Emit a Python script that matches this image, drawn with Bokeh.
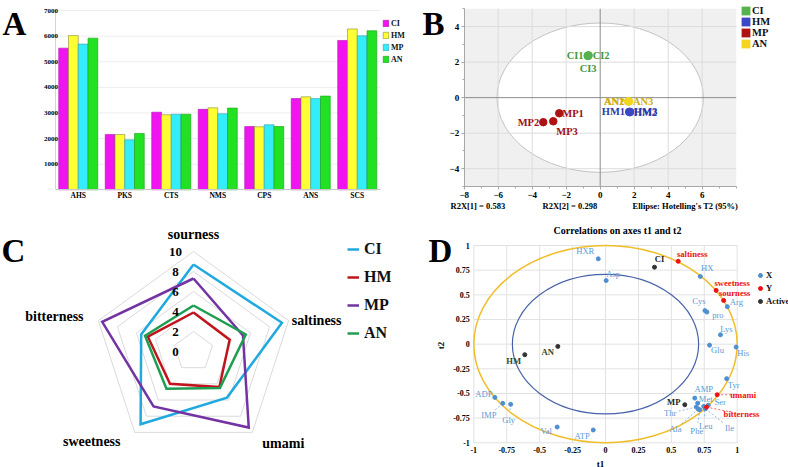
import numpy as np
from bokeh.plotting import figure
from bokeh.layouts import column, row
from bokeh.models import (ColumnDataSource, FixedTicker, Legend, LegendItem, Label)
from bokeh.transform import dodge
from bokeh.core.properties import value
from bokeh.embed import file_html
from bokeh.resources import INLINE

SERIF = "Liberation Serif"

# ---------------- A: component sums per sample ----------------
categories = ["AHS", "PKS", "CTS", "NMS", "CPS", "ANS", "SCS"]
groups = ["CI", "HM", "MP", "AN"]
bar_CI = [5530, 2160, 3030, 3140, 2470, 3560, 5830]
bar_HM = [6020, 2160, 2930, 3200, 2460, 3630, 6280]
bar_MP = [5690, 1950, 2950, 2970, 2540, 3560, 6010]
bar_AN = [5920, 2200, 2950, 3190, 2470, 3660, 6210]
a_ticks = [1000, 2000, 3000, 4000, 5000, 6000, 7000]

# ---------------- B: PCA scores ----------------
pca_names = ["CI1", "CI2", "CI3", "HM1", "HM2", "HM3",
             "MP1", "MP2", "MP3", "AN1", "AN2", "AN3"]
pca_group = ["CI", "CI", "CI", "HM", "HM", "HM", "MP", "MP", "MP", "AN", "AN", "AN"]
pca_t1 = [-0.74, -0.68, -0.71, 1.70, 1.74, 1.76, -2.41, -3.35, -2.76, 1.64, 1.67, 1.69]
pca_t2 = [2.36, 2.38, 2.34, -0.80, -0.82, -0.80, -0.88, -1.38, -1.33, -0.22, -0.20, -0.22]
r2x_1 = 0.583
r2x_2 = 0.298
t2_a = 6.07   # Hotelling's T2 (95%) ellipse semi-axes
t2_b = 4.2
b_xticks = [-8, -6, -4, -2, 0, 2, 4, 6]
b_yticks = [-4, -2, 0, 2, 4]

# ---------------- C: taste radar ----------------
tastes = ["sourness", "saltiness", "umami", "sweetness", "bitterness"]
radar_CI = [8.7, 9.3, 5.7, 9.0, 5.5]
radar_HM = [3.9, 3.8, 4.4, 4.0, 4.8]
radar_MP = [7.3, 5.2, 9.4, 6.8, 9.6]
radar_AN = [4.6, 5.5, 4.5, 4.6, 5.1]
radar_levels = [0, 2, 4, 6, 8, 10]

# ---------------- D: correlation loadings ----------------
x_names = ["HXR", "Asp", "HX", "Cys", "pro", "Arg", "Lys", "Glu", "His", "Tyr",
           "AMP", "Met", "Ser", "Thr", "Ala", "Phe", "Leu", "Ile",
           "ADP", "IMP", "Gly", "Val", "ATP"]
x_t1 = [-0.055, 0.005, 0.72, 0.755, 0.77, 0.925, 0.873, 0.79, 0.992, 0.92,
        0.678, 0.70, 0.78, 0.689, 0.705, 0.716, 0.746, 0.759,
        -0.84, -0.78, -0.72, -0.367, -0.093]
x_t2 = [0.865, 0.645, 0.686, 0.34, 0.325, 0.38, 0.095, -0.01, -0.03, -0.35,
        -0.547, -0.598, -0.62, -0.638, -0.66, -0.665, -0.631, -0.655,
        -0.54, -0.60, -0.61, -0.84, -0.87]
y_names = ["saltiness", "sweetness", "sourness", "umami", "bitterness"]
y_t1 = [0.552, 0.84, 0.897, 0.848, 0.767]
y_t2 = [0.84, 0.545, 0.443, -0.513, -0.638]
act_names = ["CI", "AN", "HM", "MP"]
act_t1 = [0.372, -0.362, -0.613, 0.602]
act_t2 = [0.78, -0.023, -0.107, -0.614]
d_ticks = [-1, -0.75, -0.5, -0.25, 0, 0.25, 0.5, 0.75, 1]


def padded(lo, hi, pad_lo, pad_hi, size):
    """Range whose [lo, hi] part sits pad_lo/pad_hi pixels inside the canvas."""
    scale = (size - pad_lo - pad_hi) / (hi - lo)
    return (lo - pad_lo / scale, hi + pad_hi / scale), scale


def panel(w, h, xr, yr):
    p = figure(width=w, height=h, x_range=xr, y_range=yr, output_backend="svg",
               toolbar_location=None, min_border=0)
    p.outline_line_color = None
    p.grid.visible = False
    return p


def tag(p, text, fx, fy, size, style="bold", align="left", baseline="alphabetic",
        color="black", angle=0):
    # fx, fy: pixels from the canvas' top-left corner
    p.add_layout(Label(x=fx, y=p.height - fy, x_units="screen", y_units="screen",
                       text=text, text_font=SERIF, text_font_style=style,
                       text_font_size=size, text_align=align, text_baseline=baseline,
                       text_color=color, angle=angle))


def style_axis(ax, size, line_color=None, tick_color=None, tick_out=0, minor_out=0,
               standoff=2):
    ax.major_label_text_font = SERIF
    ax.major_label_text_font_style = "bold"
    ax.major_label_text_font_size = size
    ax.major_label_text_color = "black"
    ax.axis_line_color = line_color
    ax.major_tick_line_color = tick_color
    ax.minor_tick_line_color = tick_color
    ax.major_tick_in = 0
    ax.minor_tick_in = 0
    ax.major_tick_out = tick_out
    ax.minor_tick_out = minor_out
    ax.major_label_standoff = standoff


def legend(items, loc, gw, gh, lh, spacing, size, standoff):
    return Legend(items=items, location=loc, glyph_width=gw, glyph_height=gh,
                  label_height=lh, label_standoff=standoff, spacing=spacing,
                  padding=0, margin=0, border_line_color=None,
                  background_fill_alpha=0, label_text_font=SERIF,
                  label_text_font_style="bold", label_text_font_size=size,
                  label_text_color="#111111")


# ======================= Panel A =======================
A_W, A_H = 412, 224
n_cat = len(categories)
a_xr, _ = padded(-0.5, n_cat - 0.5, 54.5, 32, A_W)
a_yr, _ = padded(0, 7000, 34.7, 10, A_H)
pA = panel(A_W, A_H, a_xr, a_yr)

bar_colors = {"CI": "#F014F0", "HM": "#FFFF33", "MP": "#33EEF8", "AN": "#22E022"}
bar_edges = {"CI": "#B010B0", "HM": "#8A8A30", "MP": "#30A0B0", "AN": "#18A018"}
idx = list(range(n_cat))
pA.segment(x0=-0.5, x1=n_cat - 0.5, y0=a_ticks, y1=a_ticks, line_color="#EDEDED",
           line_width=1)
srcA = ColumnDataSource(dict(idx=idx, CI=bar_CI, HM=bar_HM, MP=bar_MP, AN=bar_AN))
bar_w = 0.21
a_items = []
for i, g in enumerate(groups):
    r = pA.vbar(x=dodge("idx", (i - 1.5) * bar_w), top=g, width=bar_w, source=srcA,
                fill_color=bar_colors[g], line_color=bar_edges[g], line_width=0.6)
    a_items.append(LegendItem(label=g, renderers=[r]))

pA.xaxis.fixed_location = 0
pA.xaxis.bounds = (-0.5, n_cat - 0.5)
pA.xaxis.ticker = FixedTicker(ticks=idx)
pA.xaxis.major_label_overrides = {i: c for i, c in zip(idx, categories)}
style_axis(pA.xaxis[0], "7.5px", line_color="#C8C8C8", standoff=1)
pA.yaxis.fixed_location = -0.5
pA.yaxis.bounds = (0, 7000)
pA.yaxis.ticker = FixedTicker(ticks=a_ticks)
style_axis(pA.yaxis[0], "7px", line_color="#D4D4D4", standoff=-3)

pA.add_layout(legend(a_items, (382, 160), 7, 8, 10, 2, "8px", 2))
tag(pA, "A", 2, 23.5, "33px")

# ======================= Panel B =======================
B_W, B_H = 376, 224
b_xr, _ = padded(-8, 8, 51.7, 52.3, B_W)
b_yr, _ = padded(-5, 5, 38, 8.3, B_H)
pB = panel(B_W, B_H, b_xr, b_yr)

pB.quad(left=[-8], right=[8], bottom=[-5], top=[5], fill_color="#F0F0F0",
        line_color=None)
pB.ellipse(x=[0], y=[0], width=[2 * t2_a], height=[2 * t2_b], fill_color="white",
           line_color="#C2C2C2", line_width=1)
gx = [t for t in b_xticks if t not in (0, -8)]
gy = [t for t in b_yticks if t != 0]
pB.segment(x0=gx, x1=gx, y0=-5, y1=5, line_color="#DCDCDC", line_width=1)
pB.segment(x0=-8, x1=8, y0=gy, y1=gy, line_color="#DCDCDC", line_width=1)
pB.segment(x0=[0, -8], x1=[0, 8], y0=[-5, 0], y1=[5, 0], line_color="#8C8C8C",
           line_width=1)

pB.xaxis.fixed_location = -5
pB.xaxis.bounds = (-8, 8)
pB.xaxis.ticker = FixedTicker(ticks=b_xticks, minor_ticks=list(range(-8, 9)))
pB.yaxis.fixed_location = -8
pB.yaxis.bounds = (-5, 5)
pB.yaxis.ticker = FixedTicker(ticks=b_yticks, minor_ticks=list(range(-5, 6)))
for ax in (pB.xaxis[0], pB.yaxis[0]):
    style_axis(ax, "9px", line_color="#A8A8A8", tick_color="#A8A8A8", tick_out=3,
               minor_out=2, standoff=2)

grp_marker = {"CI": "#55B24E", "HM": "#3A48C8", "MP": "#AE1212", "AN": "#F3D520"}
grp_text = {"CI": "#3E9A3E", "HM": "#2D3BA8", "MP": "#A01010", "AN": "#CFAE12"}
# label placement around each score point (px)
pca_align = ["right", "left", "center", "right", "left", "left",
             "left", "right", "left", "right", "right", "left"]
pca_dx = [-4, 4, 0, -4, 4, 4, 3, -4, 3, -4, -4, 4]
pca_dy = [0, 0, 12, 0, 0, 0, 0, 0, 10, 0, 0, 0]
srcB = ColumnDataSource(dict(
    t1=pca_t1, t2=pca_t2, name=pca_names, grp=pca_group,
    fill=[grp_marker[g] for g in pca_group], tcol=[grp_text[g] for g in pca_group],
    align=pca_align, dx=pca_dx, dy=pca_dy))
pB.scatter(x="t1", y="t2", source=srcB, size=7.5, marker="circle",
           fill_color="fill", line_color="fill")
pB.text(x="t1", y="t2", text="name", source=srcB, x_offset="dx", y_offset="dy",
        text_align="align", text_baseline="middle", text_color="tcol",
        text_font=value(SERIF), text_font_style="bold", text_font_size="10.5px")

# square swatches for the group key (zero-size rects on the group's scores)
b_items = []
for g in groups:
    sel = [i for i, gg in enumerate(pca_group) if gg == g]
    r = pB.rect(x=[pca_t1[i] for i in sel], y=[pca_t2[i] for i in sel], width=0,
                height=0, fill_color=grp_marker[g], line_color=None)
    b_items.append(LegendItem(label=g, renderers=[r]))
pB.add_layout(legend(b_items, (328, 175), 11, 11, 11, 0, "10.5px", 1))
tag(pB, "B", 10, 23.5, "33px")
tag(pB, "R2X[1] = %.3f" % r2x_1, 38, 205, "8.5px", baseline="middle")
tag(pB, "R2X[2] = %.3f" % r2x_2, 130, 205, "8.5px", baseline="middle")
tag(pB, "Ellipse: Hotelling's T2 (95%)", 220, 205, "8.5px", baseline="middle")

# ======================= Panel C =======================
C_W, C_H = 400, 243
pC = panel(C_W, C_H, (-19.3, 20.7), (-11.6, 12.7))
pC.xaxis.visible = False
pC.yaxis.visible = False

radar_colors = {"CI": "#1FA9DF", "HM": "#C0141C", "MP": "#7433A2", "AN": "#1F9E52"}
radar_vals = {"CI": radar_CI, "HM": radar_HM, "MP": radar_MP, "AN": radar_AN}
ang = np.deg2rad([90, 18, -54, -126, 162])
ang_c = np.r_[ang, ang[0]]

ring_xs = [list(lv * np.cos(ang_c)) for lv in radar_levels[1:]]
ring_ys = [list(lv * np.sin(ang_c)) for lv in radar_levels[1:]]
pC.multi_line(xs=ring_xs, ys=ring_ys, line_color="#DADADA", line_width=1)

c_items = []
for g in groups:
    v = np.array(radar_vals[g] + radar_vals[g][:1])
    r = pC.line(x=v * np.cos(ang_c), y=v * np.sin(ang_c), line_color=radar_colors[g],
                line_width=2.5, line_join="miter")
    c_items.append(LegendItem(label=g, renderers=[r]))

top_lv = radar_levels[-1]
pC.text(x=[0] * len(radar_levels), y=radar_levels, text=[str(l) for l in radar_levels],
        x_offset=-18, text_align="center", text_baseline="middle",
        text_font=value(SERIF), text_font_style="bold", text_font_size="13px")
# taste names sit just outside the outer ring
taste_dx = [0, 28, 31, -43, -44]
taste_dy = [-17, 0, 11, 9, -4]
pC.text(x=list(top_lv * np.cos(ang)), y=list(top_lv * np.sin(ang)), text=tastes,
        x_offset=taste_dx, y_offset=taste_dy, text_align="center",
        text_baseline="middle", text_font=value(SERIF), text_font_style="bold",
        text_font_size="14px")
pC.add_layout(legend(c_items, (347, 124), 12, 20, 20, 8, "16px", 5))
tag(pC, "C", 1, 26, "33px")

# ======================= Panel D =======================
D_W, D_H = 388, 243
d_xr, px_x = padded(-1, 1, 73.3, 51.3, D_W)
d_yr, px_y = padded(-1, 1, 24.7, 21, D_H)
pD = panel(D_W, D_H, d_xr, d_yr)

pD.segment(x0=d_ticks, x1=d_ticks, y0=-1, y1=1, line_color="#E2E2E2", line_width=1)
pD.segment(x0=-1, x1=1, y0=d_ticks, y1=d_ticks, line_color="#E2E2E2", line_width=1)
d_fmt = {t: ("%g" % t) for t in d_ticks}
for ax in (pD.xaxis[0], pD.yaxis[0]):
    ax.fixed_location = -1
    ax.bounds = (-1, 1)
    ax.ticker = FixedTicker(ticks=d_ticks)
    ax.major_label_overrides = d_fmt
    style_axis(ax, "8px", standoff=4)

pD.ellipse(x=[0], y=[0], width=[2.0], height=[2.0], fill_color=None,
           line_color="#F0BE2C", line_width=1.5)
pD.ellipse(x=[0], y=[0], width=[2 * np.sqrt(0.5)], height=[2 * np.sqrt(0.5)],
           fill_color=None, line_color="#4862AA", line_width=1.2)

# label offsets in px (right, up)
x_off = {"HXR": (-13, 8), "Asp": (7, 7), "HX": (7, 8), "Cys": (-6, 10),
         "pro": (11, -3), "Arg": (9, 5), "Lys": (6, 6), "Glu": (8, -5),
         "His": (7, -6), "Tyr": (7, -6), "AMP": (9, 9), "Met": (8, 4),
         "Ser": (12, 3), "Thr": (-26, -6), "Ala": (-23, -20), "Phe": (-3, -21),
         "Leu": (2, -20), "Ile": (24, -19), "ADP": (-11, 3), "IMP": (-14, -12),
         "Gly": (-2, -16), "Val": (-11, -4), "ATP": (-11, -6)}
y_off = {"saltiness": (14, 7), "sweetness": (16, 7), "sourness": (11, 7),
         "umami": (26, 0), "bitterness": (35, -7)}
act_off = {"CI": (5, 8), "AN": (-10, -6), "HM": (-11, -6), "MP": (-11, 3)}
act_txt = {"CI": "#222222", "AN": "#33481F", "HM": "#33481F", "MP": "#222222"}
leaders = {"Thr", "Ala", "Phe", "Leu", "Ile", "IMP", "Gly", "Val", "ATP",
           "umami", "bitterness"}

d_sets = [
    ("X", x_names, x_t1, x_t2, x_off, "#4D8FD1", "#5B9BD5", "normal"),
    ("Y", y_names, y_t1, y_t2, y_off, "#F01010", "#F01010", "bold"),
    ("Active", act_names, act_t1, act_t2, act_off, "#333333", None, "bold"),
]
d_items = []
for lab, names, xs, ys, off, dot_col, txt_col, weight in d_sets:
    dx = [off[n][0] for n in names]
    dy = [-off[n][1] for n in names]
    # leader lines from a point towards its label
    lx0, ly0, lx1, ly1 = [], [], [], []
    for n, x, y in zip(names, xs, ys):
        if n in leaders:
            ox, oy = off[n]
            f = max(0.0, 1 - 8.0 / np.hypot(ox, oy))
            lx0.append(x); ly0.append(y)
            lx1.append(x + ox * f / px_x); ly1.append(y + oy * f / px_y)
    if lx0:
        pD.segment(x0=lx0, y0=ly0, x1=lx1, y1=ly1, line_color=dot_col,
                   line_width=0.8, line_dash="2 2", line_alpha=0.8)
    r = pD.scatter(x=xs, y=ys, size=4, marker="circle", fill_color=dot_col,
                   line_color=dot_col)
    cols = [act_txt[n] for n in names] if txt_col is None else [txt_col] * len(names)
    pD.text(x=xs, y=ys, text=names, x_offset=dx, y_offset=dy, text_color=cols,
            text_align="center", text_baseline="middle", text_font=value(SERIF),
            text_font_style=weight, text_font_size="8.6px")
    d_items.append(LegendItem(label=lab, renderers=[r]))

pD.add_layout(legend(d_items, (355, 161), 10, 10, 11, 2, "8.6px", 1))
tag(pD, "D", 28, 26, "33px")
tag(pD, "Correlations on axes t1 and t2", 217, 6, "10px", align="center",
    baseline="middle")
tag(pD, "t1", 200, 239, "9px", align="center", baseline="middle")
tag(pD, "t2", 40, 121, "9px", align="center", baseline="middle", angle=np.pi / 2)

layout = column(row(pA, pB), row(pC, pD))
open("out.html", "w").write(file_html(layout, INLINE))
